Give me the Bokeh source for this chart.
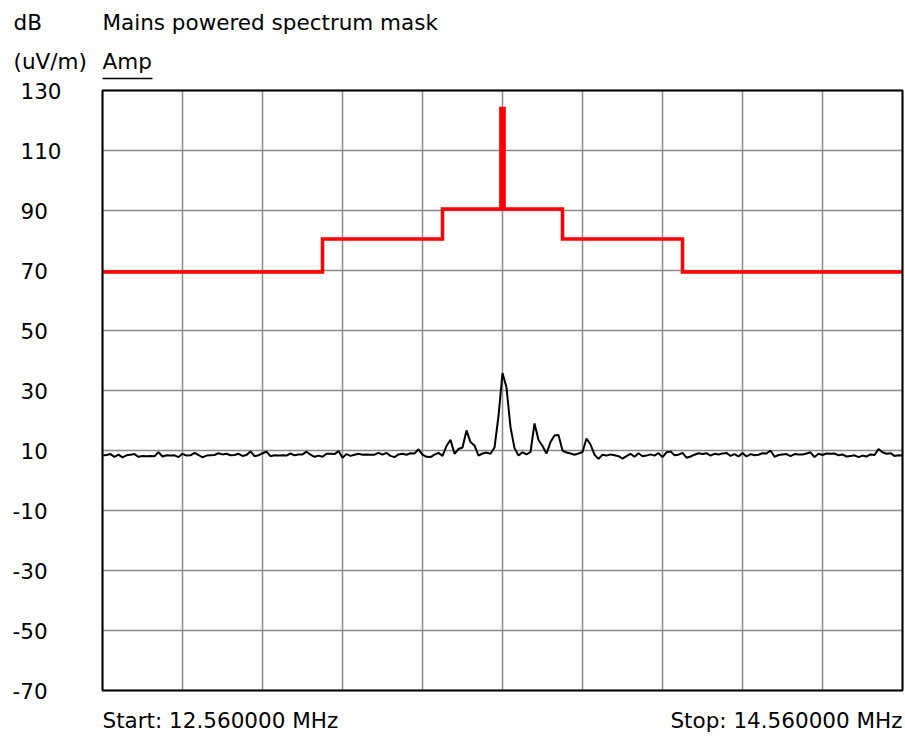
from bokeh.plotting import figure
from bokeh.models import Range1d
from bokeh.embed import file_html
from bokeh.resources import INLINE
from bokeh.core.properties import value
import numpy as np

# ---- data ----
f_start, f_stop = 12.56, 14.56
y_lo, y_hi = -70, 130
y_ticks = [130, 110, 90, 70, 50, 30, 10, -10, -30, -50, -70]
x_ticks = [12.56, 12.76, 12.96, 13.16, 13.36, 13.56, 13.76, 13.96, 14.16, 14.36, 14.56]

mask_edges = [12.56, 13.11, 13.41, 13.556, 13.564, 13.71, 14.01, 14.56]
mask_levels = [69.5, 80.5, 90.5, 124.0, 90.5, 80.5, 69.5]

amp_db = [
    8.3, 8.5, 8.8, 7.9, 8.6, 7.7, 8.4, 8.6, 8.8, 7.9,
    8.2, 8.1, 8.2, 8.1, 9.4, 8.0, 8.4, 8.3, 8.4, 7.8,
    8.9, 8.3, 8.4, 9.2, 8.5, 7.7, 8.3, 8.4, 8.5, 9.1,
    8.7, 8.9, 8.4, 8.5, 8.9, 8.2, 8.5, 9.7, 8.1, 8.4,
    9.1, 9.6, 8.1, 8.4, 8.3, 8.4, 8.3, 9.0, 8.4, 8.7,
    8.7, 9.6, 8.6, 7.9, 8.3, 7.9, 8.9, 8.9, 8.8, 9.8,
    7.6, 8.8, 8.2, 8.6, 8.9, 8.6, 8.7, 8.6, 8.6, 9.2,
    8.6, 9.2, 8.2, 7.8, 8.7, 8.9, 8.6, 9.1, 9.0, 10.4,
    8.6, 7.9, 7.8, 8.6, 9.2, 8.2, 11.5, 13.6, 8.9, 10.5,
    11.0, 16.7, 12.8, 11.7, 8.3, 9.0, 9.3, 8.9, 11.0, 21.5,
    35.8, 31.0, 17.8, 10.8, 8.3, 9.4, 8.7, 9.5, 19.0, 13.5,
    11.5, 9.0, 12.8, 15.0, 15.2, 10.0, 9.3, 9.0, 8.6, 9.0,
    9.5, 14.0, 12.0, 8.6, 7.2, 8.6, 8.3, 8.7, 8.4, 8.1,
    7.3, 8.1, 8.9, 7.9, 9.1, 8.1, 8.3, 8.7, 8.3, 9.1,
    7.8, 9.4, 9.7, 8.4, 8.6, 9.2, 7.6, 8.0, 8.6, 9.1,
    8.8, 9.1, 8.3, 8.9, 8.7, 9.0, 9.2, 8.2, 8.8, 8.0,
    9.2, 8.0, 8.8, 8.4, 8.6, 9.1, 9.0, 10.0, 7.9, 8.5,
    8.7, 8.8, 8.1, 8.8, 8.7, 8.7, 9.0, 9.4, 7.8, 8.9,
    8.5, 9.0, 8.9, 9.0, 8.4, 8.7, 8.0, 8.2, 8.4, 7.8,
    8.3, 8.0, 8.7, 8.5, 10.5, 9.4, 8.9, 9.1, 8.2, 8.4,
    8.3,
]
amp_freq = np.linspace(f_start, f_stop, len(amp_db))

title_text = "Mains powered spectrum mask"
unit_top = "dB"
unit_bottom = "(uV/m)"
trace_name = "Amp"
start_text = "Start: 12.560000 MHz"
stop_text = "Stop: 14.560000 MHz"

# ---- layout: the frame covers the whole canvas; the plot box sits inside ----
W, H = 905, 738
BL, BT, BW, BH = 102, 90, 800, 600   # plot box in canvas pixels
xpp = (f_stop - f_start) / BW          # data per pixel
ypp = (y_hi - y_lo) / BH

def px2x(px):
    return f_start + (px - BL) * xpp

def py2y(py):
    return y_hi - (py - BT) * ypp

p = figure(width=W, height=H, output_backend="svg", toolbar_location=None,
           x_range=Range1d(px2x(0), px2x(W)), y_range=Range1d(py2y(H), py2y(0)),
           x_axis_location=None, y_axis_location=None, min_border=0)
p.xgrid.visible = False
p.ygrid.visible = False
p.outline_line_color = None
p.background_fill_color = "white"
p.border_fill_color = "white"

GRID = "#8a8a8a"
# grid lines
p.segment(x0=x_ticks, y0=[y_lo] * len(x_ticks), x1=x_ticks, y1=[y_hi] * len(x_ticks),
          line_color=GRID, line_width=1.5)
p.segment(x0=[f_start] * len(y_ticks), y0=y_ticks, x1=[f_stop] * len(y_ticks), y1=y_ticks,
          line_color=GRID, line_width=1.5)

# mask as step polyline
mx, my = [], []
for i, lvl in enumerate(mask_levels):
    mx += [mask_edges[i], mask_edges[i + 1]]
    my += [lvl, lvl]
p.line(mx, my, line_color="#ff0000", line_width=3.5, line_join="miter")

# measured trace
p.line(amp_freq, amp_db, line_color="black", line_width=2)

# plot box border
p.quad(left=[f_start], right=[f_stop], bottom=[y_lo], top=[y_hi],
       fill_color=None, line_color="black", line_width=2)

FONT = value("DejaVu Sans")
FS = value("21.5px")

def txt(xs, ys, texts, align="left"):
    p.text(x=xs, y=ys, text=texts, text_font=FONT, text_font_size=FS,
           text_align=align, text_baseline="middle", text_color="black")

txt([px2x(12 if t < 0 else 20) for t in y_ticks], y_ticks, [str(t) for t in y_ticks])
txt([px2x(13), px2x(13)], [py2y(22), py2y(61)], [unit_top, unit_bottom])
txt([f_start, f_start], [py2y(22), py2y(61)], [title_text, trace_name])
txt([f_start], [py2y(720)], [start_text])
txt([f_stop], [py2y(720)], [stop_text], align="right")

# underline of the trace name
p.segment(x0=[f_start], y0=[py2y(78)], x1=[px2x(BL + 50)], y1=[py2y(78)],
          line_color="black", line_width=1.5)

open("out.html", "w").write(file_html(p, INLINE))
